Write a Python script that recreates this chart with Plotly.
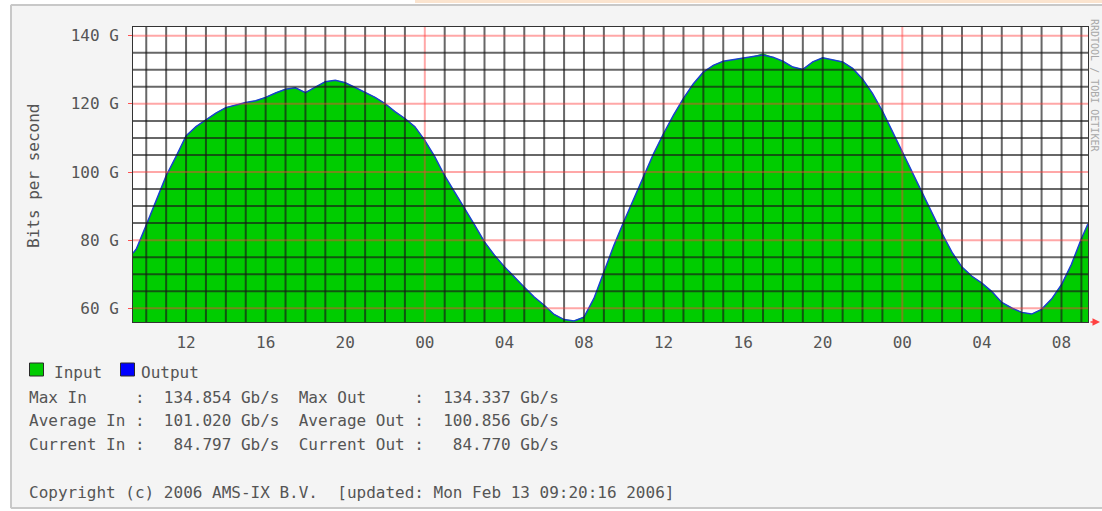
import pandas as pd
import plotly.graph_objects as go

# ---------------- data ----------------
t_start = "2006-02-11 09:20"
t_end = "2006-02-13 09:20"
half_hours = pd.date_range("2006-02-11 09:30", periods=96, freq="30min")
times = [pd.Timestamp(t_start)] + list(half_hours) + [pd.Timestamp(t_end)]

input_gbps = [
    76.3, 77.5, 84.5, 91.8, 99.0, 104.7, 110.8, 113.4, 115.4, 117.4,
    119.0, 119.8, 120.5, 121.0, 122.0, 123.3, 124.4, 124.8, 123.4, 125.0,
    126.6, 127.0, 126.3, 124.9, 123.4, 122.0, 120.2, 117.8, 115.8, 113.4,
    109.4, 104.6, 99.0, 94.3, 89.6, 84.6, 79.6, 75.7, 72.3, 69.2,
    66.3, 63.4, 61.0, 58.3, 56.8, 56.4, 57.5, 63.0, 71.0, 78.5,
    85.5, 92.0, 98.8, 105.5, 111.4, 116.8, 121.7, 126.0, 129.4, 131.4,
    132.6, 133.0, 133.5, 134.0, 134.85, 133.8, 132.6, 130.9, 130.2, 132.4,
    133.6, 133.0, 132.4, 130.5, 127.4, 123.2, 118.0, 112.0, 106.0, 100.0,
    94.0, 88.0, 82.0, 76.5, 72.2, 69.5, 67.5, 65.0, 61.8, 60.2,
    58.9, 58.4, 59.8, 62.8, 67.0, 73.0, 80.5, 84.8,
]
output_gbps = [
    76.2, 77.4, 84.4, 91.7, 98.9, 104.6, 110.6, 113.3, 115.3, 117.3,
    118.9, 119.7, 120.4, 120.9, 121.9, 123.2, 124.3, 124.7, 123.3, 124.9,
    126.5, 126.9, 126.2, 124.8, 123.3, 121.9, 120.1, 117.7, 115.7, 113.3,
    109.3, 104.5, 98.9, 94.2, 89.5, 84.5, 79.5, 75.6, 72.2, 69.1,
    66.2, 63.3, 60.9, 58.2, 56.7, 56.3, 57.4, 62.9, 70.9, 78.4,
    85.4, 91.9, 98.7, 105.4, 111.3, 116.7, 121.6, 125.9, 129.3, 131.3,
    132.5, 132.9, 133.4, 133.9, 134.34, 133.7, 132.5, 130.8, 130.1, 132.3,
    133.5, 132.9, 132.3, 130.4, 127.3, 123.1, 117.9, 111.9, 105.9, 99.9,
    93.9, 87.9, 81.9, 76.4, 72.1, 69.4, 67.4, 64.9, 61.7, 60.1,
    58.8, 58.3, 59.7, 62.7, 66.9, 72.9, 80.4, 84.77,
]

y_tick_values = [60, 80, 100, 120, 140]
y_tick_labels = [f"{v} G" for v in y_tick_values]

stats_in = {"Max": 134.854, "Average": 101.020, "Current": 84.797}
stats_out = {"Max": 134.337, "Average": 100.856, "Current": 84.770}
copyright_text = "Copyright (c) 2006 AMS-IX B.V.  [updated: Mon Feb 13 09:20:16 2006]"

# ---------------- layout geometry ----------------
W_FIG, H_FIG = 1102, 511
L, R, T, B = 133, 1088, 27, 322
PW, PH = R - L, B - T


def px(xp):
    return (xp - L) / PW


def py(yp):
    return (B - yp) / PH


MONO = "DejaVu Sans Mono"
TXT = "#555555"
FS = 16

fig = go.Figure()
fig.add_trace(go.Scatter(
    x=times, y=input_gbps, name="Input", mode="lines",
    line=dict(color="#00cc00", width=0), fill="tozeroy", fillcolor="#00cc00",
    showlegend=False, hoverinfo="skip",
))
fig.add_trace(go.Scatter(
    x=times, y=output_gbps, name="Output", mode="lines",
    line=dict(color="#1a3fd0", width=1.5), showlegend=False, hoverinfo="skip",
))

shapes = []
GRID_BLACK = "rgba(25,25,25,0.66)"
GRID_RED = "rgba(255,60,60,0.45)"
for h in pd.date_range("2006-02-11 10:00", "2006-02-13 09:00", freq="1h"):
    red = h.hour == 0
    shapes.append(dict(type="line", xref="x", yref="paper", x0=h, x1=h, y0=0, y1=1,
                       layer="above",
                       line=dict(color=GRID_RED if red else GRID_BLACK, width=2)))
for g in range(60, 141, 5):
    red = g % 20 == 0
    shapes.append(dict(type="line", xref="paper", yref="y",
                       x0=0, x1=1, y0=g, y1=g, layer="above",
                       line=dict(color=GRID_RED if red else GRID_BLACK, width=2)))


def prect(x0, y0, x1, y1, fill):
    return dict(type="rect", xref="paper", yref="paper",
                x0=px(x0), x1=px(x1), y0=py(y1), y1=py(y0),
                fillcolor=fill, line=dict(width=0), layer="below")


shapes.append(prect(0, 0, 10, H_FIG, "#ffffff"))
shapes.append(prect(0, 0, W_FIG, 4, "#ffffff"))
shapes.append(prect(415, 0, W_FIG, 3, "#fbe4cf"))
shapes.append(prect(0, 509, W_FIG, H_FIG, "#ffffff"))
for (x0, y0, x1, y1) in [(11, 5, 11, 508), (11, 5, W_FIG, 5), (11, 508, W_FIG, 508)]:
    shapes.append(dict(type="line", xref="paper", yref="paper", x0=px(x0), x1=px(x1),
                       y0=py(y0), y1=py(y1), line=dict(color="#c8c8c8", width=2)))

# legend swatches
shapes.append(dict(type="rect", xref="paper", yref="paper", x0=px(29.5), x1=px(43.5),
                   y0=py(376), y1=py(363), fillcolor="#00cc00",
                   line=dict(color="#2a2a2a", width=1)))
shapes.append(dict(type="rect", xref="paper", yref="paper", x0=px(120.5), x1=px(134.5),
                   y0=py(376), y1=py(363), fillcolor="#0000ff",
                   line=dict(color="#2a2a2a", width=1)))

NB = "\u00a0"


def mono(s):
    return s.replace(" ", NB)


def stat_line(label_in, label_out, key):
    left = f"{label_in:<11}:{stats_in[key]:>9.3f} Gb/s"
    right = f"{label_out:<12}:{stats_out[key]:>9.3f} Gb/s"
    return mono(left + "  " + right)


def note(x, y, text, **kw):
    d = dict(x=px(x), y=py(y), xref="paper", yref="paper", text=text,
             showarrow=False, xanchor="left", yanchor="middle",
             font=dict(family=MONO, size=FS, color=TXT))
    d.update(kw)
    return d


annotations = [
    note(52, 372, "Input"),
    note(139, 372, "Output"),
    note(27, 397, stat_line("Max In", "Max Out", "Max")),
    note(27, 420, stat_line("Average In", "Average Out", "Average")),
    note(27, 444, stat_line("Current In", "Current Out", "Current")),
    note(27, 492, mono(copyright_text)),
    note(33, 176, mono("Bits per second"), textangle=-90, xanchor="center"),
    note(1095, 85, mono("RRDTOOL / TOBI OETIKER"), textangle=90, xanchor="center",
         font=dict(family=MONO, size=10, color="#a8a8a8")),
    dict(x=px(1100), y=py(322), xref="paper", yref="paper", text="",
         showarrow=True, ax=-11, ay=0, arrowhead=2, arrowsize=1,
         arrowwidth=1.5, arrowcolor="#ff4040"),
]

fig.update_layout(
    width=W_FIG, height=H_FIG,
    margin=dict(l=L, r=W_FIG - R, t=T, b=H_FIG - B, pad=0),
    paper_bgcolor="#f4f4f4", plot_bgcolor="#ffffff",
    showlegend=False, hovermode=False,
    shapes=shapes, annotations=annotations,
    font=dict(family=MONO, size=FS, color=TXT),
    xaxis=dict(
        type="date", range=[t_start, t_end],
        tick0="2006-02-11 00:00", dtick=4 * 3600 * 1000, tickformat="%H",
        showgrid=False, zeroline=False, ticks="", ticklabelstandoff=6,
        showline=True, mirror=True, linecolor="#333333", linewidth=1,
        layer="above traces",
        tickfont=dict(family=MONO, size=FS, color=TXT),
    ),
    yaxis=dict(
        range=[55.98, 142.55], tickvals=y_tick_values, ticktext=y_tick_labels,
        showgrid=False, zeroline=False, ticks="outside", ticklen=4,
        tickcolor="#ff5050", ticklabelstandoff=6,
        showline=True, mirror=True, linecolor="#333333", linewidth=1,
        layer="above traces",
        tickfont=dict(family=MONO, size=FS, color=TXT),
    ),
)

fig.write_html("out.html", config={"displayModeBar": False},
               post_script="document.body.style.margin='0';")
